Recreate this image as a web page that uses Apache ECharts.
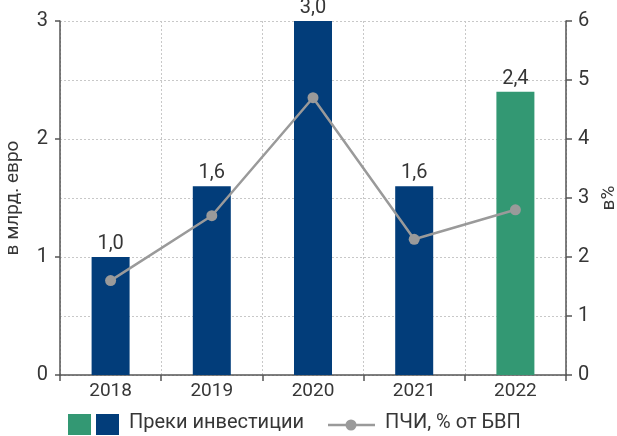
<!DOCTYPE html>
<html lang="bg">
<head>
<meta charset="utf-8">
<script src="https://cdn.jsdelivr.net/npm/echarts@6/dist/echarts.min.js"></script>
<style>
  html, body { margin: 0; padding: 0; background: #fff; }
  #chart { width: 617px; height: 436px; }
</style>
</head>
<body>
<div id="chart" lang="bg"></div>
<script>
// Години
const years = ['2018', '2019', '2020', '2021', '2022'];
// Преки инвестиции, млрд. евро
const fdiValues = [1.0, 1.6, 3.0, 1.6, 2.4];
// ПЧИ като % от БВП
const fdiShare = [1.6, 2.7, 4.7, 2.3, 2.8];
// Последната година е оцветена различно
const highlightYear = '2022';

const NAVY = '#023d7a';
const GREEN = '#339873';
const GREY = '#9a9a9a';
const AXIS = '#555555';
const TEXT = '#363636';
const FONT = 'Roboto, "Noto Sans", sans-serif';

const chart = echarts.init(document.getElementById('chart'), null, { renderer: 'canvas' });

const fmt = v => v.toFixed(1).replace('.', ',');

chart.setOption({
  animation: false,
  textStyle: { fontFamily: FONT },
  grid: { left: 60, right: 51, top: 21, bottom: 61, containLabel: false, outerBoundsMode: 'none' },
  xAxis: {
    type: 'category',
    data: years,
    boundaryGap: true,
    axisLine: { lineStyle: { color: AXIS, width: 1.5 } },
    axisTick: { show: true, length: 6, lineStyle: { color: AXIS, width: 1.5 } },
    axisLabel: { color: TEXT, fontSize: 19, margin: 7, fontFamily: FONT },
    splitLine: { show: true, lineStyle: { color: '#c8c8c8', type: [2, 2], width: 1 } }
  },
  yAxis: [
    {
      type: 'value', min: 0, max: 3, interval: 1,
      name: 'в млрд. евро', nameLocation: 'middle', nameGap: 37, nameMoveOverlap: false,
      nameTextStyle: { color: TEXT, fontSize: 19, fontFamily: FONT },
      axisLine: { show: true, lineStyle: { color: AXIS, width: 1.5 } },
      axisTick: { show: true, length: 5, lineStyle: { color: AXIS, width: 1.5 } },
      axisLabel: { color: TEXT, fontSize: 20, margin: 12, fontFamily: FONT },
      splitLine: { show: false }
    },
    {
      type: 'value', min: 0, max: 6, interval: 1,
      name: 'в%', nameLocation: 'middle', nameGap: 34, nameRotate: 90, nameMoveOverlap: false,
      nameTextStyle: { color: TEXT, fontSize: 19, fontFamily: FONT },
      axisLine: { show: true, lineStyle: { color: AXIS, width: 1.5 } },
      axisTick: { show: true, length: 6, lineStyle: { color: AXIS, width: 1.5 } },
      axisLabel: { color: TEXT, fontSize: 20, margin: 12, fontFamily: FONT },
      splitLine: { show: true, lineStyle: { color: '#c8c8c8', type: [2, 2], width: 1 } }
    }
  ],
  series: [
    {
      name: 'Преки инвестиции',
      type: 'bar',
      yAxisIndex: 0,
      barWidth: 38,
      data: fdiValues.map((v, i) => ({
        value: v,
        itemStyle: { color: years[i] === highlightYear ? GREEN : NAVY }
      })),
      label: {
        show: true, position: 'top', distance: 3,
        color: TEXT, fontSize: 20, fontFamily: FONT,
        formatter: p => fmt(p.value)
      },
      z: 2
    },
    {
      name: 'ПЧИ, % от БВП',
      type: 'line',
      yAxisIndex: 1,
      data: fdiShare,
      symbol: 'circle',
      symbolSize: 11,
      lineStyle: { color: GREY, width: 2.5 },
      itemStyle: { color: GREY },
      z: 3
    }
  ],
  graphic: [
    { type: 'rect', left: 68, top: 414, shape: { width: 23, height: 21 }, style: { fill: GREEN } },
    { type: 'rect', left: 96, top: 414, shape: { width: 23, height: 21 }, style: { fill: NAVY } },
    { type: 'text', left: 129, top: 413, style: { text: 'Преки инвестиции', fill: TEXT, font: '20px ' + FONT } },
    { type: 'line', shape: { x1: 328, y1: 425, x2: 375, y2: 425 }, style: { stroke: GREY, lineWidth: 2.5 } },
    { type: 'circle', shape: { cx: 351, cy: 425, r: 5.5 }, style: { fill: GREY } },
    { type: 'text', left: 385, top: 413, style: { text: 'ПЧИ, % от БВП', fill: TEXT, font: '20px ' + FONT } }
  ]
});
</script>
</body>
</html>
